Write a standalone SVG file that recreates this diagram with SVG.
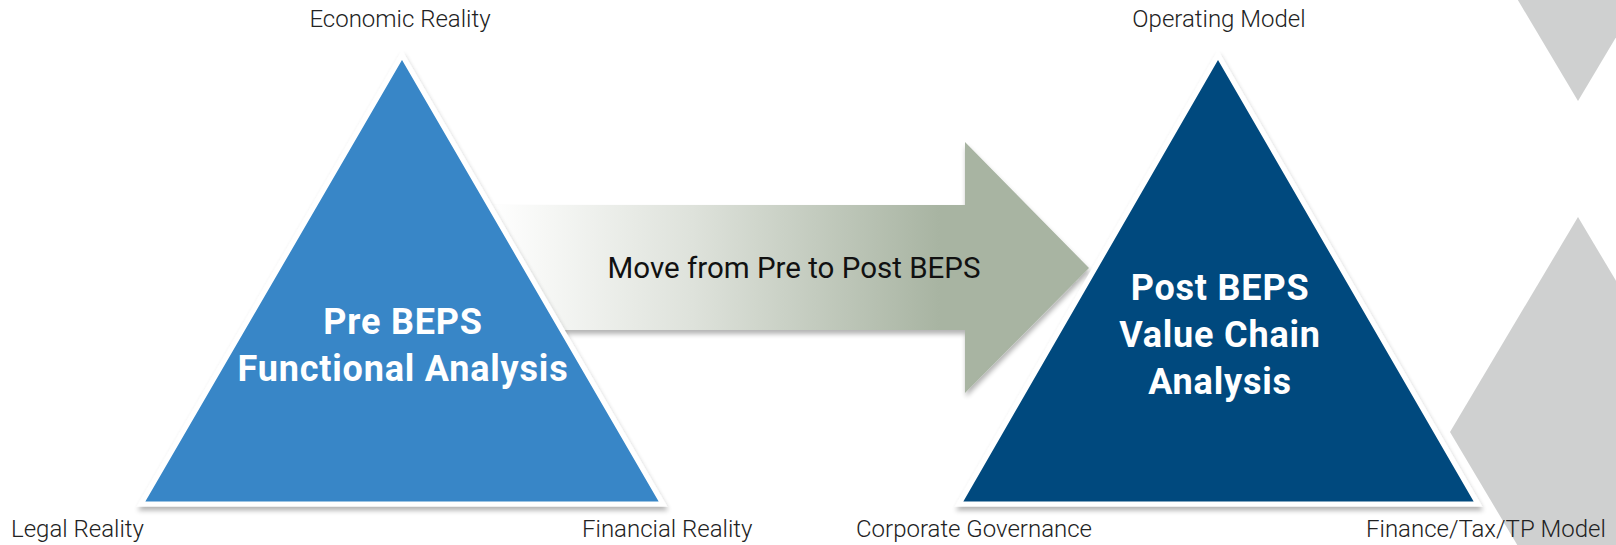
<svg xmlns="http://www.w3.org/2000/svg" width="1616" height="545" viewBox="0 0 1616 545">
<defs>
<linearGradient id="arrowGrad" gradientUnits="userSpaceOnUse" x1="490" y1="0" x2="940" y2="0">
<stop offset="0" stop-color="#FFFFFF"/>
<stop offset="0.45" stop-color="#DEE2DB"/>
<stop offset="1" stop-color="#A8B4A2"/>
</linearGradient>
<filter id="shadow" x="-10%" y="-10%" width="120%" height="125%">
<feGaussianBlur in="SourceAlpha" stdDeviation="2.5"/>
<feOffset dx="1" dy="4" result="b"/>
<feComponentTransfer><feFuncA type="linear" slope="0.3"/></feComponentTransfer>
<feMerge><feMergeNode/><feMergeNode in="SourceGraphic"/></feMerge>
</filter>
</defs>
<style>
.lbl{font-family:Roboto,"Liberation Sans",sans-serif;font-weight:300;font-size:24px;fill:#222222}
.title{font-family:Roboto,"Liberation Sans",sans-serif;font-weight:700;font-size:36px;letter-spacing:0.8px;fill:#FFFFFF;text-anchor:middle}
.tri{stroke:#FFFFFF;stroke-width:5;stroke-linejoin:miter;filter:url(#shadow)}
.move{font-family:Roboto,"Liberation Sans",sans-serif;font-weight:400;font-size:29.5px;fill:#111111;text-anchor:middle}
</style>
<rect width="1616" height="545" fill="#FFFFFF"/>
<g id="background">
<polygon points="1578,-329 1706,-114 1578,101 1450,-114" fill="#CFD0D0"/>
<polygon points="1578,217 1706,432 1578,647 1450,432" fill="#CFD0D0"/>
</g>
<g id="connectors">
<g id="arrow">
<polygon points="470,205 965,205 965,142 1089,268 965,393 965,330 470,330" fill="url(#arrowGrad)" filter="url(#shadow)"/>
<text class="move" x="794" y="278">Move from Pre to Post BEPS</text>
</g>
</g>
<g id="pre-beps">
<polygon class="tri" points="402,55 663,504 141,504" fill="#3786C7"/>
<text class="title" x="403" y="334">Pre BEPS</text>
<text class="title" x="403" y="381">Functional Analysis</text>
</g>
<g id="post-beps">
<polygon class="tri" points="1218,55 1478,504 959,504" fill="#034A7E"/>
<text class="title" x="1220" y="300">Post BEPS</text>
<text class="title" x="1220" y="347">Value Chain</text>
<text class="title" x="1220" y="394">Analysis</text>
</g>
<g id="labels">
<text class="lbl" x="400" y="27" text-anchor="middle">Economic Reality</text>
<text class="lbl" x="11" y="537">Legal Reality</text>
<text class="lbl" x="582" y="537">Financial Reality</text>
<text class="lbl" x="1219" y="27" text-anchor="middle">Operating Model</text>
<text class="lbl" x="856" y="537">Corporate Governance</text>
<text class="lbl" x="1366" y="537">Finance/Tax/TP Model</text>
</g>
</svg>
